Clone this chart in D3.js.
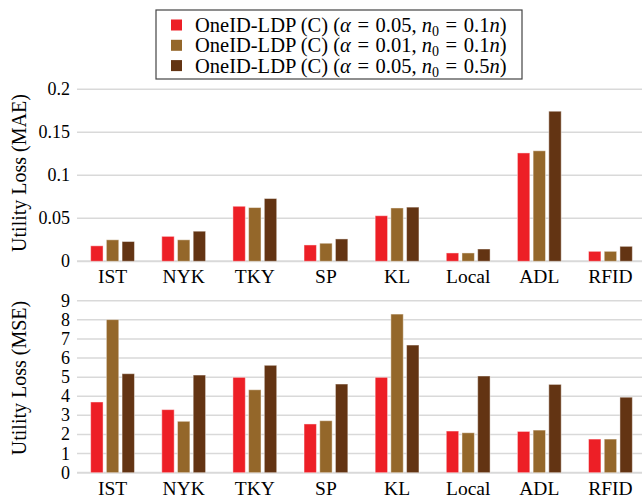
<!DOCTYPE html>
<html><head><meta charset="utf-8">
<script src="https://cdn.jsdelivr.net/npm/d3@7"></script>
<style>body{margin:0;background:#fff}svg{display:block}text{font-family:"Liberation Serif","Times New Roman",serif;fill:#000}</style>
</head><body>
<svg id="c" width="642" height="498"></svg>
<script>
const categories = ["IST","NYK","TKY","SP","KL","Local","ADL","RFID"];
const series = ["s1","s2","s3"];
const colors = ["#ed1f26","#94672a","#633413"];
const maeValues = [
  [0.018,0.029,0.064,0.019,0.053,0.0097,0.126,0.0116],
  [0.025,0.025,0.0625,0.021,0.062,0.0097,0.1285,0.0116],
  [0.023,0.035,0.073,0.026,0.063,0.0143,0.1745,0.0174]
];
const mseValues = [
  [3.70,3.30,4.99,2.55,4.99,2.18,2.16,1.76],
  [8.01,2.69,4.34,2.72,8.30,2.09,2.23,1.76],
  [5.18,5.11,5.62,4.64,6.68,5.06,4.62,3.95]
];
const maeTicks = [0,0.05,0.1,0.15,0.2];
const maeTickLabels = ["0","0.05","0.1","0.15","0.2"];
const mseTicks = [0,1,2,3,4,5,6,7,8,9];

const svg = d3.select("#c");
const x0 = d3.scaleBand().domain(categories).range([77,646]).padding(0);
const x1 = d3.scaleBand().domain(series).range([-21.9,21.9]).paddingInner(0.21);

function panel(vals, y, ticks, labels, title, catY, titleY){
  const g = svg.append("g");
  g.selectAll("line.grid").data(ticks).join("line")
    .attr("x1",77).attr("x2",642)
    .attr("y1",d=>y(d)).attr("y2",d=>y(d))
    .attr("stroke","#d9d9d9").attr("stroke-width",d=>d===0?2:1.5);
  g.selectAll("text.tick").data(ticks).join("text")
    .attr("x",70).attr("y",d=>y(d)).attr("dy","0.33em")
    .attr("text-anchor","end").attr("font-size","18px")
    .text((d,i)=>labels[i]);
  series.forEach((s,si)=>{
    g.selectAll("rect.s"+si).data(categories).join("rect")
      .attr("x",c=>x0(c)+x0.bandwidth()/2+x1(s))
      .attr("width",x1.bandwidth())
      .attr("y",(c,ci)=>y(vals[si][ci]))
      .attr("height",(c,ci)=>y(0)-y(vals[si][ci]))
      .attr("fill",colors[si])
      .attr("stroke","rgba(255,255,255,0.45)").attr("stroke-width",1);
  });
  g.selectAll("text.cat").data(categories).join("text")
    .attr("x",c=>x0(c)+x0.bandwidth()/2).attr("y",catY)
    .attr("text-anchor","middle").attr("font-size","19.5px").text(c=>c);
  g.append("text").attr("transform",`translate(19,${titleY}) rotate(-90)`)
    .attr("text-anchor","middle").attr("dominant-baseline","central")
    .attr("font-size","20px").text(title);
}

const yTop = d3.scaleLinear().domain([0,0.2]).range([261.3,89.3]);
const yBot = d3.scaleLinear().domain([0,9]).range([472.7,300.7]);
panel(maeValues, yTop, maeTicks, maeTickLabels, "Utility Loss (MAE)", 283, 173);
panel(mseValues, yBot, mseTicks, mseTicks.map(String), "Utility Loss (MSE)", 494.5, 378);

// legend
const legendAlpha = ["0.05","0.01","0.05"];
const legendN = ["0.1","0.1","0.5"];
const lg = svg.append("g");
lg.append("rect").attr("x",156).attr("y",10).attr("width",366).attr("height",69)
  .attr("fill","#fff").attr("stroke","#444").attr("stroke-width",1.2);
series.forEach((s,i)=>{
  const cy = 25 + i*20.3;
  lg.append("rect").attr("x",171).attr("y",cy-5.5).attr("width",11).attr("height",11).attr("fill",colors[i]);
  const t = lg.append("text").attr("x",195).attr("y",cy).attr("dy","0.35em").attr("font-size","20.5px");
  t.append("tspan").text("OneID-LDP (C) (");
  t.append("tspan").attr("font-style","italic").text("α");
  t.append("tspan").attr("dx",1.5).text("\u00a0=");
  t.append("tspan").attr("dx",1.5).text("\u00a0" + legendAlpha[i] + ", ");
  t.append("tspan").attr("font-style","italic").text("n");
  t.append("tspan").attr("font-size","14px").attr("dy","4").text("0");
  t.append("tspan").attr("dy","-4").attr("dx",1.5).text("\u00a0=");
  t.append("tspan").attr("dx",1.5).text("\u00a0" + legendN[i]);
  t.append("tspan").attr("font-style","italic").text("n");
  t.append("tspan").text(")");
});
</script>
</body></html>
